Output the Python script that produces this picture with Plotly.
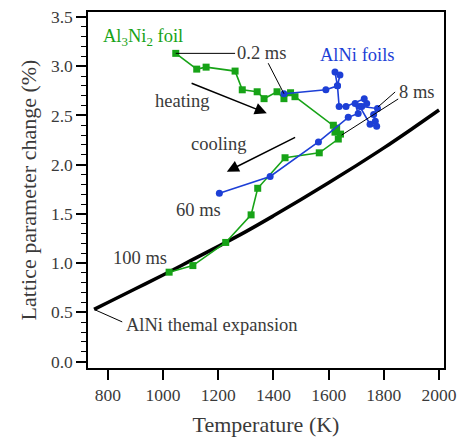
import plotly.graph_objects as go

# AlNi thermal expansion curve
therm_T = [750, 800, 900, 1000, 1100, 1200, 1300, 1400, 1500, 1600, 1700, 1800, 1900, 2000]
therm_v = [0.53, 0.60, 0.74, 0.88, 1.025, 1.17, 1.32, 1.48, 1.645, 1.815, 1.99, 2.17, 2.36, 2.555]

# Al3Ni2 foil (green squares)
green_T = [1046, 1122, 1156, 1261, 1287, 1341, 1366, 1413, 1438, 1462, 1478,
           1617, 1629, 1623, 1643, 1635, 1566, 1442, 1343, 1319, 1227, 1108, 1022]
green_v = [3.13, 2.97, 2.99, 2.95, 2.76, 2.74, 2.67, 2.74, 2.67, 2.73, 2.69,
           2.40, 2.37, 2.33, 2.31, 2.26, 2.12, 2.07, 1.76, 1.49, 1.21, 0.975, 0.908]

# AlNi foils (blue circles)
blue_T = [1438, 1590, 1632, 1623, 1641, 1632, 1638, 1663, 1729, 1738, 1720, 1777,
          1763, 1769, 1774, 1750, 1713, 1696, 1707, 1671, 1563, 1388, 1204]
blue_v = [2.72, 2.76, 2.80, 2.94, 2.91, 2.80, 2.59, 2.59, 2.67, 2.62, 2.59, 2.57,
          2.51, 2.44, 2.39, 2.41, 2.59, 2.62, 2.52, 2.48, 2.23, 1.88, 1.71]

x_ticks = [800, 1000, 1200, 1400, 1600, 1800, 2000]
y_ticks = [0.0, 0.5, 1.0, 1.5, 2.0, 2.5, 3.0, 3.5]

GREEN = "#17a317"
BLUE = "#1d3fd6"
TXT = "#3a3a3a"
FONT = "Liberation Serif"

fig = go.Figure()
fig.add_trace(go.Scatter(x=therm_T, y=therm_v, mode="lines",
                         line=dict(color="black", width=3.5, shape="spline"), showlegend=False))
fig.add_trace(go.Scatter(x=green_T, y=green_v, mode="lines+markers",
                         line=dict(color=GREEN, width=1.6),
                         marker=dict(symbol="square", size=7, color=GREEN),
                         showlegend=False))
fig.add_trace(go.Scatter(x=blue_T, y=blue_v, mode="lines+markers",
                         line=dict(color=BLUE, width=1.6),
                         marker=dict(symbol="circle", size=7, color=BLUE),
                         showlegend=False))

# leader lines
leaders = [
    ((1046, 3.13), (1261, 3.13)),
    ((1381, 3.03), (1438, 2.72)),
    ((1841, 2.738), (1779, 2.586)),
    ((1852, 2.667), (1647, 2.30)),
    ((754, 0.525), (852, 0.403)),
]
for (x0, y0), (x1, y1) in leaders:
    fig.add_shape(type="line", x0=x0, y0=y0, x1=x1, y1=y1, xref="x", yref="y",
                  line=dict(color="black", width=1))

texts = [
    ("Al<sub>3</sub>Ni<sub>2</sub> foil", 928, 3.29, GREEN),
    ("0.2 ms", 1355, 3.134, TXT),
    ("AlNi foils", 1703, 3.114, BLUE),
    ("8 ms", 1920, 2.738, TXT),
    ("heating", 1069, 2.647, TXT),
    ("cooling", 1203, 2.21, TXT),
    ("60 ms", 1127, 1.54, TXT),
    ("100 ms", 917, 1.053, TXT),
    ("AlNi themal expansion", 1179, 0.373, TXT),
]
for t, x, y, c in texts:
    fig.add_annotation(text=t, x=x, y=y, xref="x", yref="y", showarrow=False,
                       font=dict(family=FONT, size=18.5, color=c),
                       xanchor="center", yanchor="middle")

# arrows
for (xt, yt), (xh, yh) in [((1098, 2.833), (1376, 2.522)), ((1484, 2.285), (1231, 1.929))]:
    fig.add_annotation(x=xh, y=yh, ax=xt, ay=yt, xref="x", yref="y", axref="x", ayref="y",
                       text="", showarrow=True, arrowhead=2, arrowsize=1.6,
                       arrowwidth=1.5, arrowcolor="black")

fig.update_layout(
    width=458, height=441,
    margin=dict(l=88, r=14, t=12, b=73, autoexpand=False),
    plot_bgcolor="white", paper_bgcolor="white",
    font=dict(family=FONT, size=17, color=TXT),
)
fig.update_xaxes(range=[728, 2018], tickvals=x_ticks, ticktext=[str(v) for v in x_ticks],
                 automargin=False,
                 showgrid=False, zeroline=False, showline=True, linecolor="black",
                 linewidth=1.5, mirror=True, ticks="outside", ticklen=10, tickwidth=1.5,
                 tickcolor="black", tickfont=dict(family=FONT, size=17.5, color=TXT),
                 title=dict(text="Temperature (K)", font=dict(family=FONT, size=22, color=TXT),
                            standoff=13))
fig.update_yaxes(range=[-0.065, 3.55], tickvals=y_ticks, ticktext=[f"{v:.1f}" for v in y_ticks],
                 automargin=False,
                 showgrid=False, zeroline=False, showline=True, linecolor="black",
                 linewidth=1.5, mirror=True, ticks="outside", ticklen=10, tickwidth=1.5,
                 tickcolor="black", tickfont=dict(family=FONT, size=17.5, color=TXT),
                 minor=dict(dtick=0.1, tick0=0, ticks="outside", ticklen=5, tickwidth=1,
                            tickcolor="black", showgrid=False),
                 title=dict(text="Lattice parameter change (%)",
                            font=dict(family=FONT, size=22, color=TXT), standoff=8))

fig.write_html("out.html", config={"displayModeBar": False},
               post_script="document.body.style.margin='0px';document.body.style.overflow='hidden';")
